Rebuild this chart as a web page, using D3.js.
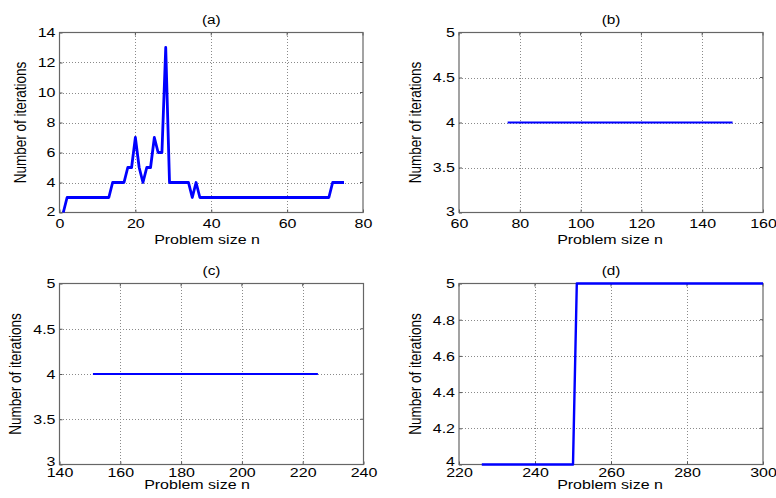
<!DOCTYPE html>
<html>
<head>
<meta charset="utf-8">
<script src="https://cdn.jsdelivr.net/npm/d3@7"></script>
<style>
  html, body { margin: 0; padding: 0; background: #fff; }
  svg { display: block; }
  text { font-family: "Liberation Sans", Arial, Helvetica, sans-serif; fill: #000; }
</style>
</head>
<body>
<svg id="chart" width="776" height="498"></svg>
<script>
// Iteration counts for problem sizes n = 1 .. 75 (panel a)
const sizesAStart = 1;
const itersA = [2,
  3,3,3,3,3,3,3,3,3,3,3,3,
  4,4,4,4,
  5,5,
  7,5,4,
  5,5,
  7,6,6,
  13,
  4,4,4,4,4,4,
  3,4,
  3,3,3,3,3,3,3,3,3,3,3,3,3,3,3,3,3,3,3,3,3,3,3,3,3,3,3,3,3,3,3,3,3,3,3,
  4,4,4,4];

// Panels b-d: points where the iteration count changes (n, iterations)
const sizesB = [76, 150];
const itersB = [4, 4];
const sizesC = [151, 225];
const itersC = [4, 4];
const sizesD = [226, 250, 251, 300];
const itersD = [4, 4, 5, 5];

// Axis ticks
const xTicksA = [0, 20, 40, 60, 80];
const yTicksA = [2, 4, 6, 8, 10, 12, 14];
const xTicksB = [60, 80, 100, 120, 140, 160];
const yTicksB = [3, 3.5, 4, 4.5, 5];
const xTicksC = [140, 160, 180, 200, 220, 240];
const yTicksC = [3, 3.5, 4, 4.5, 5];
const xTicksD = [220, 240, 260, 280, 300];
const yTicksD = [4, 4.2, 4.4, 4.6, 4.8, 5];

const titles = ["(a)", "(b)", "(c)", "(d)"];
const xLabel = "Problem size n";
const yLabel = "Number of iterations";

const seriesA = itersA.map((v, i) => ({ n: sizesAStart + i, v }));
const toSeries = (ns, vs) => ns.map((n, i) => ({ n, v: vs[i] }));

const panels = [
  { title: titles[0], data: seriesA, xTicks: xTicksA, yTicks: yTicksA,
    box: { l: 59.5, r: 363, t: 32.5, b: 212.5 }, lw: 2.8,
    titleY: 23.5, xLabY: 244, xLabX: 207, yLabX: 22, xTickDy: 15.5, lowNudge: -1.5 },
  { title: titles[1], data: toSeries(sizesB, itersB), xTicks: xTicksB, yTicks: yTicksB,
    box: { l: 459, r: 763, t: 32.5, b: 212.5 }, lw: 2.2,
    titleY: 23.5, xLabY: 244, xLabX: 610, yLabX: 417, xTickDy: 15.5, lowNudge: -1.5 },
  { title: titles[2], data: toSeries(sizesC, itersC), xTicks: xTicksC, yTicks: yTicksC,
    box: { l: 59.5, r: 363.5, t: 283.5, b: 464.5 }, lw: 2.2,
    titleY: 274.5, xLabY: 489, xLabX: 197, yLabX: 17, xTickDy: 12.5, lowNudge: -3 },
  { title: titles[3], data: toSeries(sizesD, itersD), xTicks: xTicksD, yTicks: yTicksD,
    box: { l: 459, r: 763, t: 283.5, b: 464.5 }, lw: 2.4,
    titleY: 274.5, xLabY: 489, xLabX: 610, yLabX: 417, xTickDy: 12.5, lowNudge: -3 }
];

const SX = 1.28;          // horizontal stretch of the lettering
const svg = d3.select("#chart");

function label(g, x, y, str, size, anchor, rotate) {
  return g.append("text")
    .attr("transform", `translate(${x},${y}) scale(${SX},1)` + (rotate ? " rotate(-90)" : ""))
    .attr("text-anchor", anchor)
    .style("font-size", size + "px")
    .text(str);
}

panels.forEach(p => {
  const B = p.box;
  const x = d3.scaleLinear()
    .domain([p.xTicks[0], p.xTicks[p.xTicks.length - 1]])
    .range([B.l, B.r]);
  const y = d3.scaleLinear()
    .domain([p.yTicks[0], p.yTicks[p.yTicks.length - 1]])
    .range([B.b, B.t]);
  const g = svg.append("g");

  // dotted grid
  const grid = g.append("g").attr("stroke", "#8a8a8a").attr("stroke-width", 1)
    .attr("stroke-dasharray", "1,2").attr("shape-rendering", "crispEdges");
  grid.selectAll("line.vx").data(p.xTicks.slice(1, -1)).join("line")
    .attr("x1", d => Math.round(x(d)) + 0.5).attr("x2", d => Math.round(x(d)) + 0.5)
    .attr("y1", B.t).attr("y2", B.b);
  grid.selectAll("line.hy").data(p.yTicks.slice(1, -1)).join("line")
    .attr("y1", d => Math.round(y(d)) + 0.5).attr("y2", d => Math.round(y(d)) + 0.5)
    .attr("x1", B.l).attr("x2", B.r);

  // axes with inward ticks
  const ax = g.append("g").attr("transform", `translate(0,${B.b})`)
    .call(d3.axisBottom(x).tickValues(p.xTicks).tickSizeInner(-3).tickSizeOuter(0)
      .tickPadding(0).tickFormat(d3.format("~g")));
  ax.selectAll("text")
    .attr("y", p.xTickDy).attr("dy", 0)
    .attr("transform", `scale(${SX},1)`)
    .style("font-size", "12.5px").style("fill", "#000");
  const ay = g.append("g").attr("transform", `translate(${B.l},0)`)
    .call(d3.axisLeft(y).tickValues(p.yTicks).tickSizeInner(-3).tickSizeOuter(0)
      .tickPadding(0).tickFormat(d3.format("~g")));
  ay.selectAll("text")
    .attr("x", -4 / SX).attr("dy", "0.35em")
    .attr("y", (d, i) => i === 0 ? p.lowNudge : 0)
    .attr("transform", `scale(${SX},1)`)
    .style("font-size", "12.5px").style("fill", "#000");
  [ax, ay].forEach(a => {
    a.select(".domain").remove();
    a.selectAll(".tick line").attr("stroke", "#555");
    a.attr("font-family", null);
  });
  // ticks on the top and right edges
  g.append("g").selectAll("line").data(p.xTicks).join("line")
    .attr("x1", d => x(d)).attr("x2", d => x(d)).attr("y1", B.t).attr("y2", B.t + 3)
    .attr("stroke", "#555");
  g.append("g").selectAll("line").data(p.yTicks).join("line")
    .attr("y1", d => y(d)).attr("y2", d => y(d)).attr("x1", B.r).attr("x2", B.r - 3)
    .attr("stroke", "#555");

  // axes box
  g.append("rect").attr("x", B.l).attr("y", B.t)
    .attr("width", B.r - B.l).attr("height", B.b - B.t)
    .attr("fill", "none").attr("stroke", "#666").attr("stroke-width", 1.2);

  // iteration curve
  const line = d3.line().x(d => x(d.n)).y(d => y(d.v));
  g.append("path").datum(p.data)
    .attr("d", line)
    .attr("fill", "none").attr("stroke", "#0000ff")
    .attr("stroke-width", p.lw).attr("stroke-linejoin", "round");

  // labels
  label(g, (B.l + B.r) / 2, p.titleY, p.title, 12, "middle", false);
  label(g, p.xLabX, p.xLabY, xLabel, 12.5, "middle", false);
  label(g, p.yLabX + 4, (B.t + B.b) / 2, yLabel, 13.5, "middle", true);
});
</script>
</body>
</html>
